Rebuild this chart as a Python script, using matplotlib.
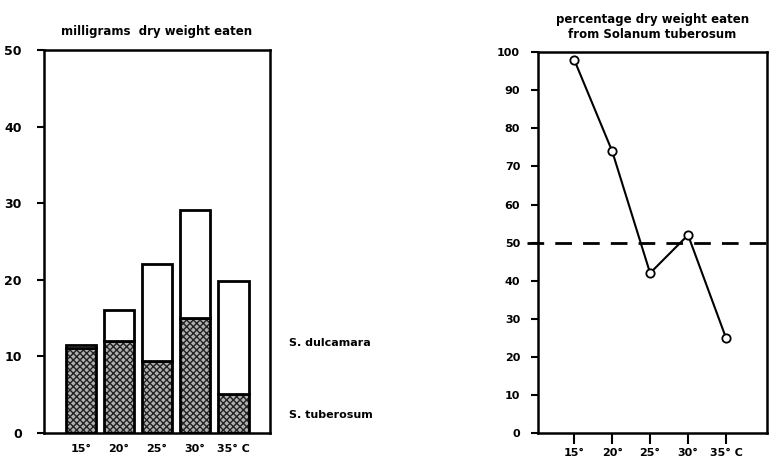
import numpy as np
import matplotlib.pyplot as plt

# temperatures and data
temps = ['15°', '20°', '25°', '30°', '35° C']
tuberosum = [11.1, 12.0, 9.4, 15.0, 5.1]     # mg dry weight eaten, S. tuberosum
totals = [11.5, 16.0, 22.0, 29.1, 19.8]      # total mg dry weight eaten
dulcamara = [t - s for t, s in zip(totals, tuberosum)]
pct_tuberosum = [98, 74, 42, 52, 25]         # % from Solanum tuberosum

plt.rcParams['font.family'] = 'DejaVu Sans'
plt.rcParams['font.weight'] = 'bold'
plt.rcParams['hatch.linewidth'] = 1.0

fig = plt.figure(figsize=(7.7, 4.61), dpi=100)
x = np.arange(len(temps))

# left panel: stacked bars
ax1 = fig.add_axes([0.057, 0.0607, 0.2935, 0.831])
ax1.bar(x, tuberosum, width=0.8, color='#b0b0b0', edgecolor='#222222',
        hatch='xxxxx', linewidth=0)
ax1.bar(x, tuberosum, width=0.8, color='none', edgecolor='black', linewidth=2)
ax1.bar(x, dulcamara, bottom=tuberosum, width=0.8, color='white',
        edgecolor='black', linewidth=2)
ax1.set_xlim(-0.97, 4.96)
ax1.set_ylim(0, 50)
ax1.set_yticks([0, 10, 20, 30, 40, 50])
ax1.set_xticks(x)
ax1.set_xticklabels(temps)
ax1.tick_params(axis='x', length=0, pad=8, labelsize=8)
ax1.tick_params(axis='y', length=5, width=1.5, pad=11, labelsize=9)
for s in ax1.spines.values():
    s.set_linewidth(1.8)
ax1.text(0.5, 1.03, 'milligrams  dry weight eaten', transform=ax1.transAxes,
         ha='center', va='bottom', fontsize=8.5)
fig.text(289 / 770, 1 - 343 / 461, 'S. dulcamara', fontsize=8, va='center')
fig.text(289 / 770, 1 - 415 / 461, 'S. tuberosum', fontsize=8, va='center')

# right panel: percentage line
ax2 = fig.add_axes([0.699, 0.0607, 0.297, 0.826])
ax2.axhline(50, color='black', linewidth=2, dashes=(6, 4), xmin=-0.05,
            clip_on=False)
ax2.plot(x, pct_tuberosum, color='black', linewidth=1.5, marker='o',
         markersize=6, markerfacecolor='white', markeredgecolor='black',
         markeredgewidth=1.3, clip_on=False, zorder=3)
ax2.set_xlim(-0.95, 5.08)
ax2.set_ylim(0, 100)
ax2.set_yticks(range(0, 101, 10))
ax2.set_xticks(x)
ax2.set_xticklabels(temps)
ax2.tick_params(axis='x', length=8, width=1.5, pad=3, labelsize=8)
ax2.tick_params(axis='y', length=5, width=1.5, pad=8, labelsize=8)
for s in ax2.spines.values():
    s.set_linewidth(1.8)
ax2.text(0.5, 1.03, 'percentage dry weight eaten\nfrom Solanum tuberosum',
         transform=ax2.transAxes, ha='center', va='bottom', fontsize=8.5,
         linespacing=1.2)

fig.savefig('out.png', dpi=100)
